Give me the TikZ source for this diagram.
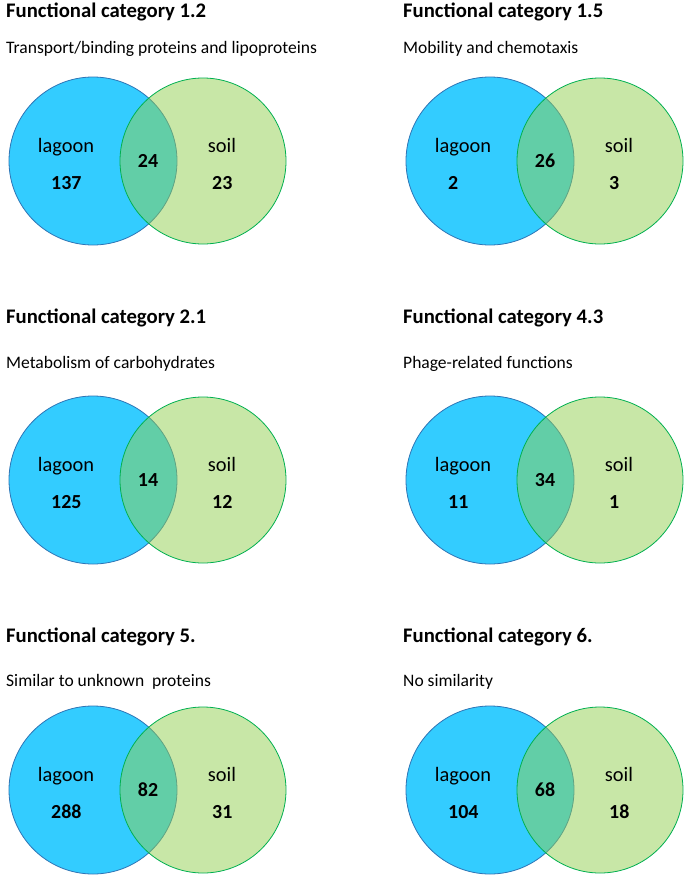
\documentclass[tikz,border=0pt]{standalone}
\usepackage{fontspec}
\setmainfont{Carlito}
\usetikzlibrary{positioning}
\definecolor{lagoonblue}{RGB}{51,204,255}
\definecolor{lagoonedge}{RGB}{46,117,182}
\definecolor{soilgreen}{RGB}{146,208,80}
\definecolor{soiledge}{RGB}{0,176,80}
\tikzset{
  lagoonset/.style={circle, inner sep=0pt, minimum size=168bp, fill=lagoonblue, draw=lagoonedge, line width=0.8bp},
  soilset/.style={circle, inner sep=0pt, minimum size=166bp, fill=soilgreen, fill opacity=0.5, draw=soiledge, draw opacity=1, line width=0.8bp},
  cattitle/.style={anchor=base west, inner sep=0pt, font=\fontsize{20.8}{25}\selectfont\bfseries},
  catsub/.style={anchor=base west, inner sep=0pt, font=\fontsize{17.6}{21}\selectfont},
  setname/.style={anchor=base, inner sep=0pt, font=\fontsize{20.5}{24}\selectfont},
  setcount/.style={inner sep=0pt, font=\fontsize{20}{24}\selectfont\bfseries}
}
\begin{document}
\begin{tikzpicture}[x=1bp, y=-1bp]
  \useasboundingbox (0,0) rectangle (686,878);
  \fill[white] (0,0) rectangle (686,878);
  \foreach \px/\ty/\sy/\cy/\cat/\sub/\nl/\nb/\ns [count=\i] in {
    0/17/53/161/1.2/{Transport/binding proteins and lipoproteins}/137/24/23,
    397/17/53/161/1.5/{Mobility and chemotaxis}/2/26/3,
    0/323/368/480/2.1/{Metabolism of carbohydrates}/125/14/12,
    397/323/368/480/4.3/{Phage-related functions}/11/34/1,
    0/642/686/790/5./{Similar to unknown\ \ proteins}/288/82/31,
    397/642/686/790/6./{No similarity}/104/68/18%
  }{
    % the two sets
    \node[lagoonset] (lagoon\i) at (\px+93,\cy) {};
    \node[soilset] (soil\i) at (\px+203,\cy) {};
    % headings
    \node[cattitle] (title\i) at (\px+6,\ty) {Functional category \cat};
    \node[catsub] (sub\i) at (\px+6,\sy) {\sub};
    % set names and counts
    \node[setname] (lname\i) at (\px+66,\cy-9) {lagoon};
    \node[setname] (sname\i) at (\px+222,\cy-9) {soil};
    \node[setcount, anchor=base west] (lcount\i) at (\px+51,\cy+28) {\nl};
    \node[setcount, anchor=base] (bcount\i) at (\px+148,\cy+6) {\nb};
    \node[setcount, anchor=base west] (scount\i) at (\px+212,\cy+28) {\ns};
  }
\end{tikzpicture}
\end{document}
